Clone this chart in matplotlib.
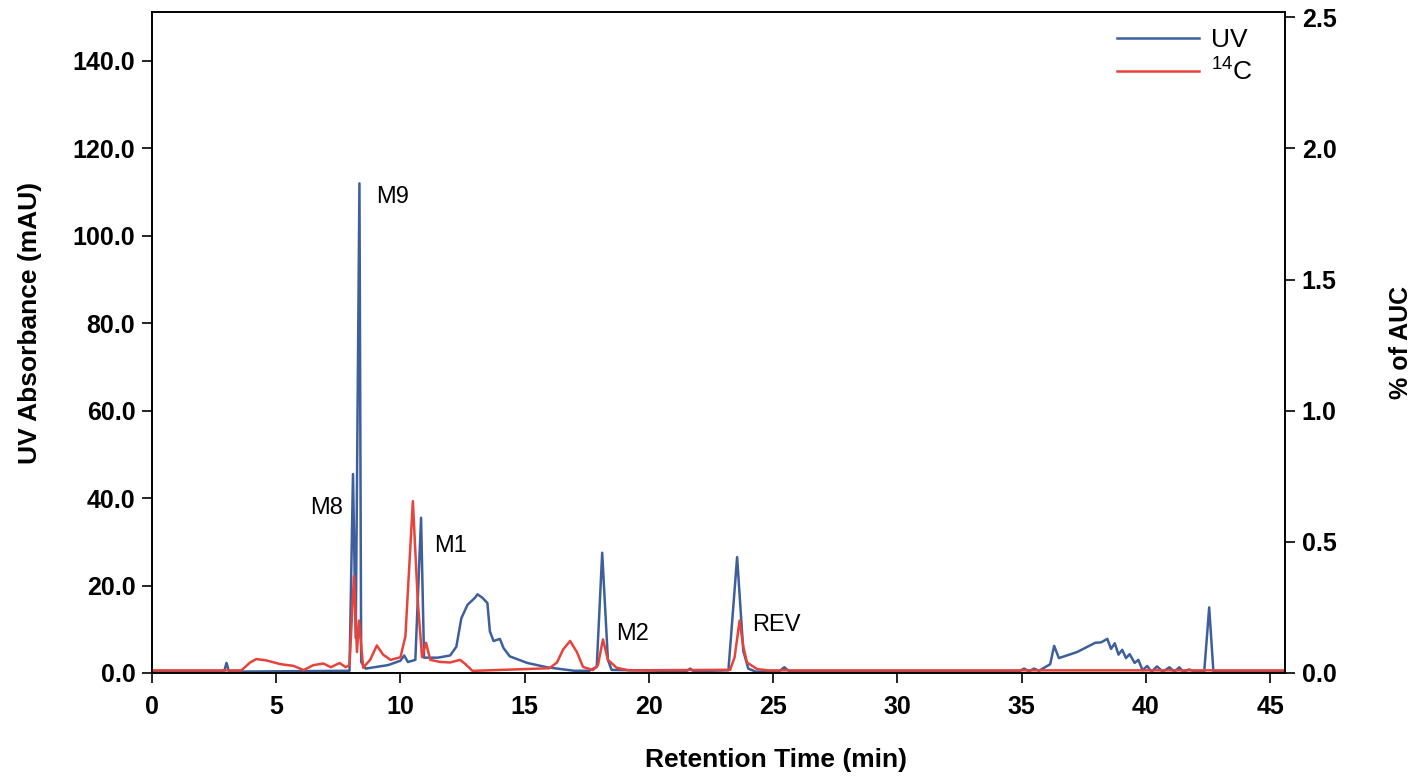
import matplotlib
matplotlib.use("Agg")
import matplotlib.pyplot as plt
from matplotlib.ticker import FormatStrFormatter

plt.rcParams['font.family'] = ['Liberation Sans', 'DejaVu Sans']
plt.rcParams['mathtext.fontset'] = 'custom'
plt.rcParams['mathtext.rm'] = 'Liberation Sans'

# UV trace (retention time in min, absorbance in mAU)
uv_time = [0.0, 2.9, 3.0, 3.1, 7.95, 8.09, 8.2, 8.35, 8.42, 8.6, 9.5, 10.0,
           10.15, 10.3, 10.6, 10.83, 10.95, 11.5, 12.0, 12.25, 12.45, 12.7,
           13.0, 13.1, 13.3, 13.5, 13.6, 13.75, 14.0, 14.15, 14.4, 15.1, 15.9,
           17.0, 17.6, 17.9, 18.12, 18.35, 18.5, 21.5, 21.66, 21.8, 23.2,
           23.55, 23.8, 24.0, 24.3, 25.25, 25.45, 25.65, 34.9, 35.1, 35.3,
           35.5, 35.7, 36.15, 36.31, 36.5, 37.24, 37.96, 38.2, 38.45, 38.6,
           38.75, 38.9, 39.05, 39.2, 39.35, 39.55, 39.7, 39.87, 40.05, 40.23,
           40.45, 40.68, 40.95, 41.15, 41.35, 41.5, 41.75, 42.0, 42.35, 42.55,
           42.72, 45.6]
uv_mau = [0.3, 0.3, 2.3, 0.3, 0.5, 45.5, 8.0, 112.0, 2.5, 1.0, 1.8, 2.8,
          4.0, 2.5, 3.0, 35.5, 3.5, 3.5, 4.0, 6.0, 12.5, 15.6,
          17.2, 18.0, 17.2, 16.0, 9.5, 7.3, 7.8, 5.7, 3.8, 2.3, 1.3,
          0.5, 0.5, 1.4, 27.5, 3.0, 0.7, 0.4, 1.0, 0.4, 0.6,
          26.5, 5.0, 1.0, 0.3, 0.4, 1.3, 0.4, 0.4, 1.0, 0.4,
          1.0, 0.5, 2.0, 6.2, 3.4, 4.8, 6.9, 7.0, 7.8, 5.5,
          6.8, 4.2, 5.3, 3.4, 4.3, 2.3, 3.0, 0.6, 1.6, 0.3,
          1.5, 0.3, 1.3, 0.3, 1.3, 0.3, 0.8, 0.3, 0.3, 15.0,
          0.3, 0.3]

# 14C radio trace (retention time in min, % of AUC)
c14_time = [0.0, 3.6, 3.95, 4.2, 4.6, 5.15, 5.7, 6.1, 6.5, 6.9, 7.2, 7.55,
            7.8, 7.95, 8.13, 8.25, 8.33, 8.5, 8.78, 9.05, 9.3, 9.6, 10.0,
            10.2, 10.5, 10.7, 10.87, 11.03, 11.2, 11.6, 12.0, 12.4, 12.6,
            12.9, 16.0, 16.3, 16.55, 16.83, 17.1, 17.35, 17.75, 17.95, 18.15,
            18.35, 18.7, 19.2, 23.27, 23.45, 23.65, 23.8, 23.95, 24.35, 24.8,
            45.6]
c14_auc = [0.01, 0.01, 0.04, 0.053, 0.048, 0.034, 0.027, 0.011, 0.03, 0.036,
           0.022, 0.038, 0.022, 0.03, 0.37, 0.08, 0.2, 0.02, 0.05, 0.105,
           0.07, 0.05, 0.06, 0.14, 0.655, 0.27, 0.06, 0.115, 0.05, 0.042,
           0.04, 0.05, 0.035, 0.008, 0.018, 0.04, 0.09, 0.122, 0.08, 0.023,
           0.011, 0.03, 0.128, 0.05, 0.02, 0.01, 0.012, 0.06, 0.2, 0.1, 0.04,
           0.015, 0.01, 0.01]

# peak labels
peak_names = ['M9', 'M8', 'M1', 'M2', 'REV']
peak_time = [9.02, 7.69, 11.35, 18.68, 24.15]
peak_level = [108.8, 37.8, 29.1, 8.9, 11.0]
peak_align = ['left', 'right', 'left', 'left', 'left']

uv_ticks = [0, 20, 40, 60, 80, 100, 120, 140]
auc_ticks = [0.0, 0.5, 1.0, 1.5, 2.0, 2.5]
time_ticks = [0, 5, 10, 15, 20, 25, 30, 35, 40, 45]

uv_color = '#3D5F9B'
c14_color = '#E8433B'

fig = plt.figure(figsize=(14.23, 7.78), dpi=100)
ax = fig.add_axes([0.1068, 0.135, 0.7962, 0.8496])
ax2 = ax.twinx()

l1, = ax.plot(uv_time, uv_mau, color=uv_color, lw=1.8, label='UV')
l2, = ax2.plot(c14_time, c14_auc, color=c14_color, lw=1.8,
               label=r'$\mathregular{^{14}C}$')

ax.set_xlim(0, 45.6)
ax.set_ylim(0, 151.2)
ax2.set_ylim(0, 2.52)

ax.set_xticks(time_ticks)
ax.set_yticks(uv_ticks)
ax2.set_yticks(auc_ticks)
ax.yaxis.set_major_formatter(FormatStrFormatter('%.1f'))
ax2.yaxis.set_major_formatter(FormatStrFormatter('%.1f'))

for a in (ax, ax2):
    a.tick_params(direction='out', length=7, width=1.2, labelsize=18, pad=5)
    for lab in a.get_xticklabels() + a.get_yticklabels():
        lab.set_fontweight('bold')
    for s in a.spines.values():
        s.set_linewidth(1.2)
ax.tick_params(axis='x', pad=9)

ax.set_xlabel('Retention Time (min)', fontsize=19, fontweight='bold')
ax.xaxis.set_label_coords(0.551, -0.113)
ax.set_ylabel('UV Absorbance (mAU)', fontsize=19, fontweight='bold')
ax.yaxis.set_label_coords(-0.097, 0.53)
ax2.set_ylabel('% of AUC', fontsize=18, fontweight='bold')
ax2.yaxis.set_label_coords(1.092, 0.5)

for name, t, lev, ha in zip(peak_names, peak_time, peak_level, peak_align):
    ax.text(t, lev, name, fontsize=17, ha=ha, va='center')

ax2.legend([l1, l2], ['UV', r'$\mathregular{^{14}C}$'], loc='upper right',
           frameon=False, fontsize=19, handlelength=3.1, handletextpad=0.45,
           labelspacing=0.25, borderaxespad=0.2, bbox_to_anchor=(0.985, 1.0))

fig.savefig('out.png', dpi=100)
